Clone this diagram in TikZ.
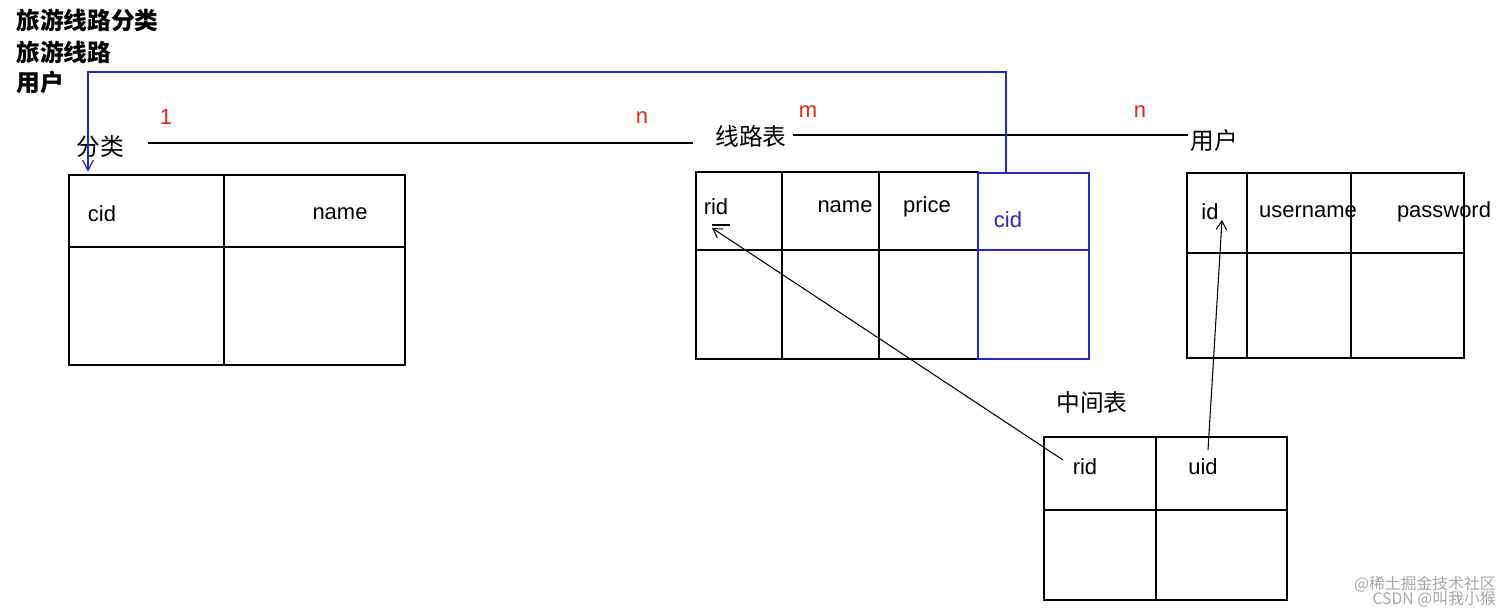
\documentclass[tikz,border=0pt]{standalone}
\usepackage{fontspec}
\setmainfont{Liberation Sans}
\newfontfamily\cjk{Noto Sans CJK SC}
\usetikzlibrary{arrows.meta}
\definecolor{lineblue}{RGB}{40,40,190}
\definecolor{lred}{RGB}{220,40,20}
\begin{document}
\begin{tikzpicture}[x=0.02cm,y=-0.02cm,
  lbl/.style={inner sep=0pt,font=\fontsize{12.5}{14}\selectfont},
  cj/.style={inner sep=0pt,font=\fontsize{13.5}{15}\selectfont\cjk},
  hd/.style={cj,font=\fontsize{13.5}{15}\selectfont\cjk\bfseries},
  red/.style={lbl,text=lred},
  tb/.style={draw=black,line width=0.7pt},
  ln/.style={draw=black,line width=0.6pt}]
\useasboundingbox[fill=white] (0,0) rectangle (1512,614);
% headings
\node[hd,anchor=west] (h1) at (16,20) {旅游线路分类};
\node[hd,anchor=west] (h2) at (16,52) {旅游线路};
\node[hd,anchor=west] (h3) at (16,83) {用户};
% relation labels
\node[cj] (fl) at (100,147) {分类};
\node[cj] (xl) at (751,136) {线路表};
\node[cj] (yh) at (1214,141) {用户};
\node[cj] (zj) at (1092,402) {中间表};
\node[red] (r1) at (166,117) {1};
\node[red] (r2) at (642,118) {n};
\node[red] (r3) at (808,112) {m};
\node[red] (r4) at (1140,112) {n};
\coordinate (l1a) at (148,143); \coordinate (l1b) at (693,143);
\draw[ln] (l1a) -- (l1b);
\coordinate (l2a) at (793,135); \coordinate (l2b) at (1188,135);
\draw[ln] (l2a) -- (l2b);
% table 分类
\draw[tb] (69,175) rectangle (405,365);
\draw[tb] (224,175) -- (224,365) (69,247) -- (405,247);
\node[lbl] (c1) at (102,214) {cid};
\node[lbl] (c2) at (340,214) {name};
% table 线路表
\draw[tb] (696,172) rectangle (978,359);
\draw[tb] (782,172) -- (782,359) (879,172) -- (879,359) (696,250) -- (978,250);
\draw[draw=lineblue,line width=0.7pt] (978,173) rectangle (1089,359) (978,250) -- (1089,250);
\node[lbl] (rid) at (716,207) {rid};
\node[lbl] (rn) at (845,207) {name};
\node[lbl] (rp) at (927,207) {price};
\node[lbl,text=lineblue] (rc) at (1008,220) {cid};
\coordinate (dsa) at (712,225); \coordinate (dsb) at (730,225);
\draw[ln] (dsa) -- (dsb);
% table 用户
\draw[tb] (1187,173) rectangle (1464,358);
\draw[tb] (1247,173) -- (1247,358) (1351,173) -- (1351,358) (1187,253) -- (1464,253);
\node[lbl] (uid) at (1210,212) {id};
\node[lbl] (un) at (1308,212) {username};
\node[lbl] (upw) at (1444,212) {password};
% table 中间表
\draw[tb] (1044,437) rectangle (1287,600);
\draw[tb] (1156,437) -- (1156,600) (1044,510) -- (1287,510);
\node[lbl] (mr) at (1085,467) {rid};
\node[lbl] (mu) at (1203,467) {uid};
% arrows
\coordinate (a1s) at (1063,460); \coordinate (a1e) at (712,228);
\draw[ln,-{Straight Barb[length=5pt,width=6pt]}] (a1s) -- (a1e);
\coordinate (a2s) at (1208,450); \coordinate (a2e) at (1222,220);
\draw[ln,-{Straight Barb[length=5pt,width=6pt]}] (a2s) -- (a2e);
% blue connector
\coordinate (b0) at (1006,173); \coordinate (b1) at (1006,72);
\coordinate (b2) at (88,72); \coordinate (b3) at (88,172);
\draw[draw=lineblue,line width=0.7pt,-{Straight Barb[length=6pt,width=6pt]}] (b0) -- (b1) -- (b2) -- (b3);
% watermark
\node[cj,anchor=east,text=gray!70,font=\fontsize{9}{10}\selectfont\cjk] (w1) at (1496,584) {@稀土掘金技术社区};
\node[cj,anchor=east,text=gray!70,font=\fontsize{9}{10}\selectfont\cjk] (w2) at (1496,599) {CSDN @叫我小猴};
\end{tikzpicture}
\end{document}
